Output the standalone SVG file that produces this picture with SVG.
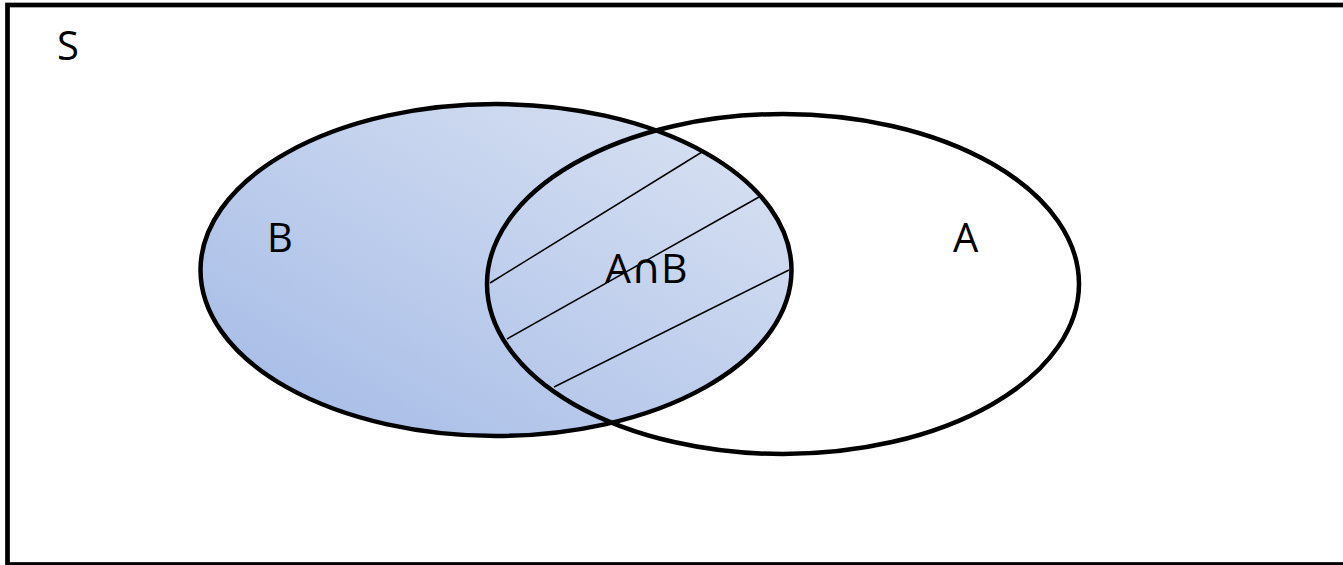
<svg xmlns="http://www.w3.org/2000/svg" width="1343" height="565" viewBox="0 0 1343 565">
<style>
.lbl{font-family:"Open Sans","Noto Sans","DejaVu Sans",sans-serif;font-size:40px;fill:#000}
.set{stroke:#000;stroke-width:4.5}
.hatch{stroke:#000;stroke-width:1.5}
</style>
<defs>
<linearGradient id="gB" x1="1" y1="0" x2="0" y2="1">
<stop offset="0" stop-color="#dce4f3"/>
<stop offset="1" stop-color="#a2b9e6"/>
</linearGradient>
</defs>
<rect width="1343" height="565" fill="#fff"/>
<g id="universe">
<rect x="7.5" y="5" width="1345" height="559.5" fill="none" stroke="#000" stroke-width="4.7"/>
<text class="lbl" x="57" y="60">S</text>
</g>
<g id="setB">
<ellipse cx="496" cy="270" rx="295.5" ry="166" fill="url(#gB)"/>
</g>
<g id="intersection">
<line class="hatch" x1="490" y1="283" x2="702" y2="152"/>
<line class="hatch" x1="507" y1="339" x2="759" y2="197"/>
<line class="hatch" x1="554" y1="387" x2="789" y2="270"/>
</g>
<g id="outlines">
<ellipse class="set" cx="496" cy="270" rx="295.5" ry="166" fill="none"/>
<ellipse id="setA" class="set" cx="783" cy="284" rx="296" ry="170" fill="none"/>
</g>
<g id="labels">
<text class="lbl" x="267" y="252">B</text>
<text class="lbl" x="953" y="252">A</text>
<text class="lbl" x="605" y="283" style="font-size:41px">A∩B</text>
</g>
<g id="connectors"/>
</svg>
